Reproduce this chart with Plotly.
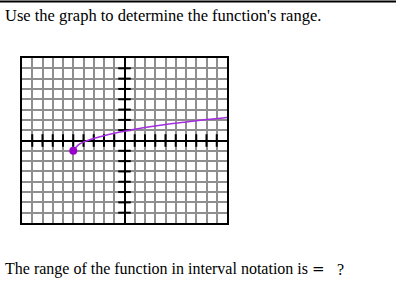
import plotly.graph_objects as go

# Data
curve_x = [-5, -4.5, -4, -3, -2, -1, 0, 2, 4, 6, 8, 10]
curve_y = [-1, -0.42, -0.15, 0.2, 0.47, 0.7, 0.9, 1.25, 1.55, 1.8, 2.03, 2.23]
start_x = [-5]
start_y = [-1]
x_ticks = [v for v in range(-9, 10) if v != 0]
y_ticks = [v for v in range(-7, 8) if v != 0]

W, H = 396, 289
L, R, T, B = 22, 227, 58, 223  # plot area in pixels

def px(x):
    return (x - L) / (R - L)

def py(y):
    return (B - y) / (B - T)

fig = go.Figure()
# axis tick marks drawn on the axes
fig.add_trace(go.Scatter(x=x_ticks, y=[0] * len(x_ticks), mode="markers",
                         marker=dict(symbol="line-ns", size=9, line=dict(color="black", width=2)),
                         hoverinfo="skip", showlegend=False))
fig.add_trace(go.Scatter(x=[0] * len(y_ticks), y=y_ticks, mode="markers",
                         marker=dict(symbol="line-ew", size=9, line=dict(color="black", width=2)),
                         hoverinfo="skip", showlegend=False))
fig.add_trace(go.Scatter(x=curve_x, y=curve_y, mode="lines",
                         line=dict(color="#a52ee0", width=1.5, shape="spline"),
                         showlegend=False))
fig.add_trace(go.Scatter(x=start_x, y=start_y, mode="markers",
                         marker=dict(color="#9900cc", size=8),
                         showlegend=False))

axis_common = dict(showgrid=True, gridcolor="#8f8f8f", gridwidth=1.6,
                   zeroline=True, zerolinecolor="black", zerolinewidth=2,
                   showline=True, linecolor="black", linewidth=2, mirror=True,
                   showticklabels=False, ticks="", dtick=1, fixedrange=True)
fig.update_xaxes(range=[-10, 10], **axis_common)
fig.update_yaxes(range=[-8, 8], **axis_common)

font_top = dict(family="Liberation Serif, Times New Roman, serif", size=16.5, color="black")
font = dict(family="Liberation Serif, Times New Roman, serif", size=16, color="black")
fig.update_layout(
    width=W, height=H,
    margin=dict(l=L, r=W - R, t=T, b=H - B),
    paper_bgcolor="white", plot_bgcolor="white",
    showlegend=False,
    shapes=[dict(type="line", xref="paper", yref="paper",
                 x0=px(0), x1=px(W), y0=py(1.5), y1=py(1.5),
                 line=dict(color="black", width=2))],
    annotations=[
        dict(text="Use the graph to determine the function's range.",
             xref="paper", yref="paper", x=px(3), y=py(16),
             xanchor="left", yanchor="middle", showarrow=False, font=font_top),
        dict(text="The range of the function in interval notation is",
             xref="paper", yref="paper", x=px(3), y=py(269),
             xanchor="left", yanchor="middle", showarrow=False, font=font),
        dict(text="=",
             xref="paper", yref="paper", x=px(310), y=py(269),
             xanchor="left", yanchor="middle", showarrow=False,
             font=dict(family="DejaVu Serif, serif", size=15, color="black")),
        dict(text="?",
             xref="paper", yref="paper", x=px(335), y=py(269),
             xanchor="left", yanchor="middle", showarrow=False, font=font),
    ],
)
fig.write_html("out.html")
